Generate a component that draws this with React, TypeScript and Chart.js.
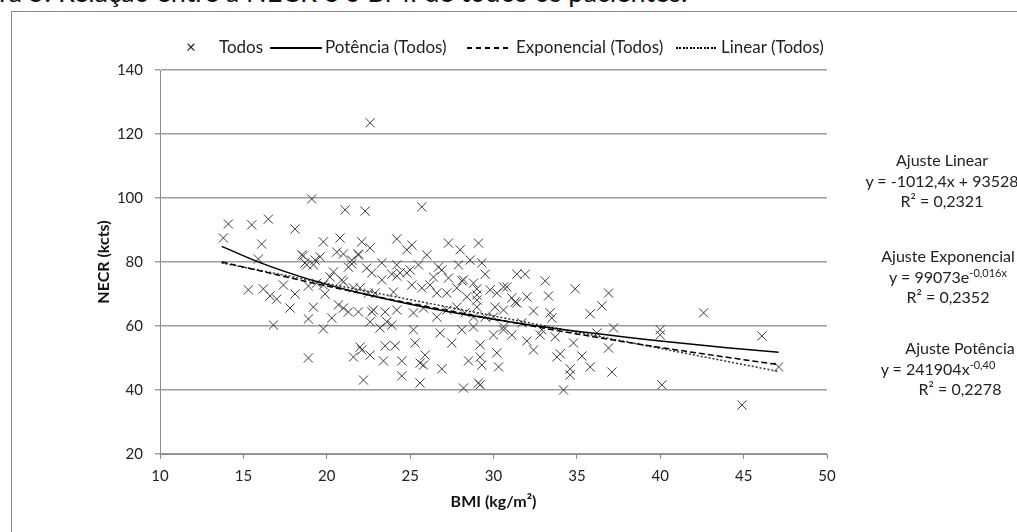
import React, { useEffect, useRef } from "react";
import { Chart, registerables } from "chart.js";

Chart.register(...registerables);

// BMI (kg/m²) of each patient
const bmi: number[] = [
  19.1, 14.1, 13.8, 15.5, 16.5, 18.1, 16.1, 15.9, 18.5, 18.8, 19.2, 15.3, 16.2, 16.6, 17.0, 17.4, 18.1, 17.8, 18.9, 19.2,
  16.8, 18.9, 18.9, 22.6, 21.1, 22.3, 24.2, 19.8, 20.8, 22.1, 22.6, 20.6, 21.0, 21.9, 19.6, 18.6, 21.5, 21.3, 23.3, 24.2,
  18.7, 20.4, 22.4, 22.7, 23.3, 23.9, 20.2, 20.9, 21.0, 19.8, 21.6, 22.0, 22.5, 22.9, 24.0, 19.9, 21.0, 21.3, 21.9, 22.8,
  23.5, 24.2, 20.3, 19.8, 22.6, 23.2, 23.6, 22.0, 23.5, 24.1, 25.7, 24.8, 25.1, 26.0, 27.3, 28.0, 29.1, 28.6, 19.3, 21.5,
  21.9, 25.5, 26.7, 27.9, 24.4, 25.0, 26.4, 26.9, 28.2, 28.8, 19.4, 25.1, 25.7, 26.2, 26.6, 27.2, 27.8, 28.4, 29.0, 20.7,
  22.7, 25.2, 25.8, 26.6, 27.2, 27.8, 28.3, 29.0, 23.9, 25.2, 26.8, 28.1, 28.8, 27.5, 25.3, 21.6, 22.1, 22.6, 23.4, 24.5,
  25.9, 25.6, 25.8, 26.9, 28.5, 22.2, 24.5, 25.6, 28.2, 29.1, 29.3, 29.5, 31.4, 31.9, 33.1, 33.3, 34.9, 36.9, 36.5, 35.8,
  37.2, 32.4, 33.4, 33.5, 36.2, 36.9, 37.1, 34.8, 35.3, 35.8, 34.0, 33.8, 34.6, 34.6, 34.2, 32.4, 32.0, 32.8, 32.9, 33.7,
  30.2, 30.3, 29.2, 29.3, 29.2, 29.2, 30.0, 30.6, 31.1, 30.6, 30.8, 29.8, 30.2, 31.1, 31.4, 30.1, 30.6, 29.0, 29.5, 31.7,
  30.6, 28.8, 30.0, 24.2, 24.8, 27.3, 28.1, 29.0, 31.3, 32.0, 42.6, 40.0, 40.0, 46.1, 47.1, 40.1, 44.9
];

// NECR (kcts) of each patient, same order as bmi
const necr: number[] = [
  99.7, 91.9, 87.5, 91.6, 93.4, 90.3, 85.6, 80.9, 82.2, 79.1, 79.1, 71.3, 71.6, 69.4, 68.4, 72.8, 70.0, 65.6, 72.5, 65.9,
  60.3, 62.2, 50.0, 123.5, 96.3, 95.9, 87.2, 86.3, 87.5, 86.3, 84.4, 83.1, 82.5, 82.5, 81.6, 81.9, 79.4, 78.4, 79.7, 79.1,
  79.7, 76.9, 78.1, 76.6, 74.4, 76.2, 75.3, 74.4, 73.8, 72.8, 71.9, 71.9, 70.3, 70.3, 70.6, 70.0, 65.6, 64.4, 64.4, 65.0,
  64.4, 65.0, 62.5, 59.1, 61.3, 59.4, 61.3, 53.4, 53.8, 53.8, 97.2, 83.8, 85.3, 82.2, 85.9, 83.8, 85.9, 80.6, 80.6, 80.6,
  82.2, 79.1, 78.4, 79.1, 76.6, 77.5, 75.3, 77.5, 74.4, 73.4, 73.4, 72.8, 71.9, 72.8, 70.3, 70.3, 71.9, 69.1, 69.7, 66.6,
  64.4, 64.1, 65.6, 62.8, 65.0, 65.9, 64.1, 65.9, 60.3, 58.8, 57.8, 58.8, 59.7, 54.7, 54.7, 50.3, 52.5, 50.9, 49.1, 49.1,
  50.9, 48.4, 47.8, 46.6, 49.1, 43.1, 44.4, 42.2, 40.6, 42.2, 79.7, 76.2, 76.2, 76.2, 74.1, 69.4, 71.6, 70.3, 66.3, 63.8,
  59.4, 64.7, 64.1, 62.5, 57.8, 53.1, 45.6, 54.7, 50.6, 47.2, 51.3, 50.3, 46.6, 44.7, 40.0, 52.5, 55.3, 57.2, 58.8, 56.6,
  51.6, 47.2, 50.3, 47.8, 54.1, 41.6, 57.2, 58.8, 57.2, 72.2, 72.2, 71.3, 70.3, 68.8, 67.2, 65.9, 65.0, 68.1, 62.8, 61.0,
  59.7, 62.8, 62.8, 75.6, 76.6, 75.0, 74.1, 71.6, 67.5, 69.1, 64.1, 58.8, 57.2, 56.9, 47.2, 41.6, 35.3
];

// Trend lines
const powerX = [13.7, 16, 19, 22, 25, 28, 32, 36, 40, 44, 47.1];
const powerY = [84.9, 79.8, 74.5, 70.3, 66.8, 63.8, 60.5, 57.7, 55.3, 53.2, 51.8];
const expX = [13.7, 20, 25, 30, 35, 40, 47.1];
const expY = [80.0, 72.5, 67.1, 62.2, 57.5, 53.3, 47.9];
const linX = [13.7, 47.1];
const linY = [79.7, 45.8];

const xTicks = [10, 15, 20, 25, 30, 35, 40, 45, 50];
const yTicks = [20, 40, 60, 80, 100, 120, 140];

const seriesLabels = ["Todos", "Potência (Todos)", "Exponencial (Todos)", "Linear (Todos)"];

const FONT = "Lato, 'Open Sans', sans-serif";

export default function App() {
  const ref = useRef<HTMLCanvasElement | null>(null);

  useEffect(() => {
    if (!ref.current) return;
    const pts = (xs: number[], ys: number[]) => xs.map((x, i) => ({ x, y: ys[i] }));
    const chart = new Chart(ref.current, {
      type: "scatter",
      data: {
        datasets: [
          {
            label: seriesLabels[0],
            data: pts(bmi, necr),
            pointStyle: "crossRot",
            pointRadius: 6.5,
            pointBorderWidth: 1,
            borderColor: "#3c3c3c",
            backgroundColor: "transparent",
            showLine: false,
            order: 4,
          } as any,
          {
            label: seriesLabels[1],
            data: pts(powerX, powerY),
            showLine: true,
            pointRadius: 0,
            borderColor: "#000",
            borderWidth: 1.5,
            cubicInterpolationMode: "monotone",
            order: 1,
          } as any,
          {
            label: seriesLabels[2],
            data: pts(expX, expY),
            showLine: true,
            pointRadius: 0,
            borderColor: "#000",
            borderWidth: 1.5,
            borderDash: [6, 3],
            cubicInterpolationMode: "monotone",
            order: 2,
          } as any,
          {
            label: seriesLabels[3],
            data: pts(linX, linY),
            showLine: true,
            pointRadius: 0,
            borderColor: "#333",
            borderWidth: 1.5,
            borderDash: [2, 2],
            order: 3,
          } as any,
        ],
      },
      options: {
        responsive: false,
        animation: false,
        events: [],
        layout: { padding: { left: 90, top: 70, right: 190, bottom: 10 } },
        plugins: { legend: { display: false }, tooltip: { enabled: false }, title: { display: false } },
        scales: {
          x: {
            type: "linear",
            min: 10,
            max: 50,
            afterBuildTicks: (s: any) => {
              s.ticks = xTicks.map((v) => ({ value: v }));
            },
            afterFit: (s: any) => {
              s.height = 68;
            },
            grid: { drawOnChartArea: false, drawTicks: true, tickLength: 5, color: "#8a8a8a", lineWidth: 1 },
            border: { display: true, color: "#8a8a8a", width: 1 },
            ticks: { font: { family: FONT, size: 15 }, color: "#222", padding: 8, maxRotation: 0, autoSkip: false },
            title: {
              display: true,
              text: "BMI (kg/m²)",
              font: { family: FONT, size: 16, weight: "bold" },
              color: "#111",
              padding: { top: 0, bottom: 11 },
            },
          },
          y: {
            type: "linear",
            min: 20,
            max: 140,
            afterBuildTicks: (s: any) => {
              s.ticks = yTicks.map((v) => ({ value: v }));
            },
            afterFit: (s: any) => {
              s.width = 70;
            },
            grid: { drawOnChartArea: true, drawTicks: true, tickLength: 5, color: "#9c9c9c", lineWidth: 1.5 },
            border: { display: true, color: "#8a8a8a", width: 1 },
            ticks: { font: { family: FONT, size: 15 }, color: "#222", padding: 12, autoSkip: false },
            title: {
              display: true,
              text: "NECR (kcts)",
              font: { family: FONT, size: 16, weight: "bold" },
              color: "#111",
              padding: { top: 4, bottom: 0 },
            },
          },
        },
      },
    } as any);
    return () => chart.destroy();
  }, []);

  const legendText: React.CSSProperties = {
    position: "absolute",
    top: 37,
    fontFamily: FONT,
    fontSize: 17,
    color: "#222",
    whiteSpace: "nowrap",
    lineHeight: "20px",
  };
  const legendLine = (left: number, width: number, on: number, off: number): React.CSSProperties => ({
    position: "absolute",
    left,
    top: 47,
    width,
    height: 1.5,
    background:
      off === 0
        ? "#000"
        : `repeating-linear-gradient(to right, #000 0px, #000 ${on}px, transparent ${on}px, transparent ${on + off}px)`,
  });
  const note = (centerX: number, top: number): React.CSSProperties => ({
    position: "absolute",
    left: centerX - 110,
    top,
    width: 220,
    textAlign: "center",
    fontFamily: FONT,
    fontSize: 16,
    lineHeight: "20.5px",
    color: "#222",
    whiteSpace: "nowrap",
  });
  const sup: React.CSSProperties = { fontSize: 11, verticalAlign: "6px", lineHeight: 0 };

  return (
    <div
      style={{
        position: "fixed",
        left: 0,
        top: 0,
        width: 1017,
        height: 532,
        overflow: "hidden",
        background: "#fff",
      }}
    >
      <div
        style={{
          position: "absolute",
          left: -1,
          top: -23,
          fontFamily: FONT,
          fontSize: 27,
          lineHeight: "30px",
          color: "#111",
          whiteSpace: "nowrap",
        }}
      >
        ra 5. Relação entre a NECR e o BMI de todos os pacientes.
      </div>
      <div
        style={{
          position: "absolute",
          left: 11,
          top: 11,
          width: 1020,
          height: 540,
          border: "1px solid #8a8a8a",
          boxSizing: "border-box",
          background: "#fff",
        }}
      />
      <canvas ref={ref} width={1017} height={532} style={{ position: "absolute", left: 0, top: 0, width: 1017, height: 532 }} />

      <div style={{ ...legendText, left: 186, fontSize: 17 }}>×</div>
      <div style={{ ...legendText, left: 219 }}>{seriesLabels[0]}</div>
      <div style={legendLine(270, 52, 1, 0)} />
      <div style={{ ...legendText, left: 325 }}>{seriesLabels[1]}</div>
      <div style={legendLine(467, 44, 5, 4)} />
      <div style={{ ...legendText, left: 516 }}>{seriesLabels[2]}</div>
      <div style={legendLine(676, 42, 2, 1.5)} />
      <div style={{ ...legendText, left: 721 }}>{seriesLabels[3]}</div>

      <div style={note(942, 150)}>
        <div>Ajuste Linear</div>
        <div>y = -1012,4x + 93528</div>
        <div>R² = 0,2321</div>
      </div>
      <div style={note(948, 246)}>
        <div>Ajuste Exponencial</div>
        <div>
          y = 99073e<span style={sup}>-0,016x</span>
        </div>
        <div>R² = 0,2352</div>
      </div>
      <div style={note(960, 338)}>
        <div>Ajuste Potência</div>
        <div style={{ position: "relative", left: -22 }}>
          y = 241904x<span style={sup}>-0,40</span>
        </div>
        <div>R² = 0,2278</div>
      </div>
    </div>
  );
}
